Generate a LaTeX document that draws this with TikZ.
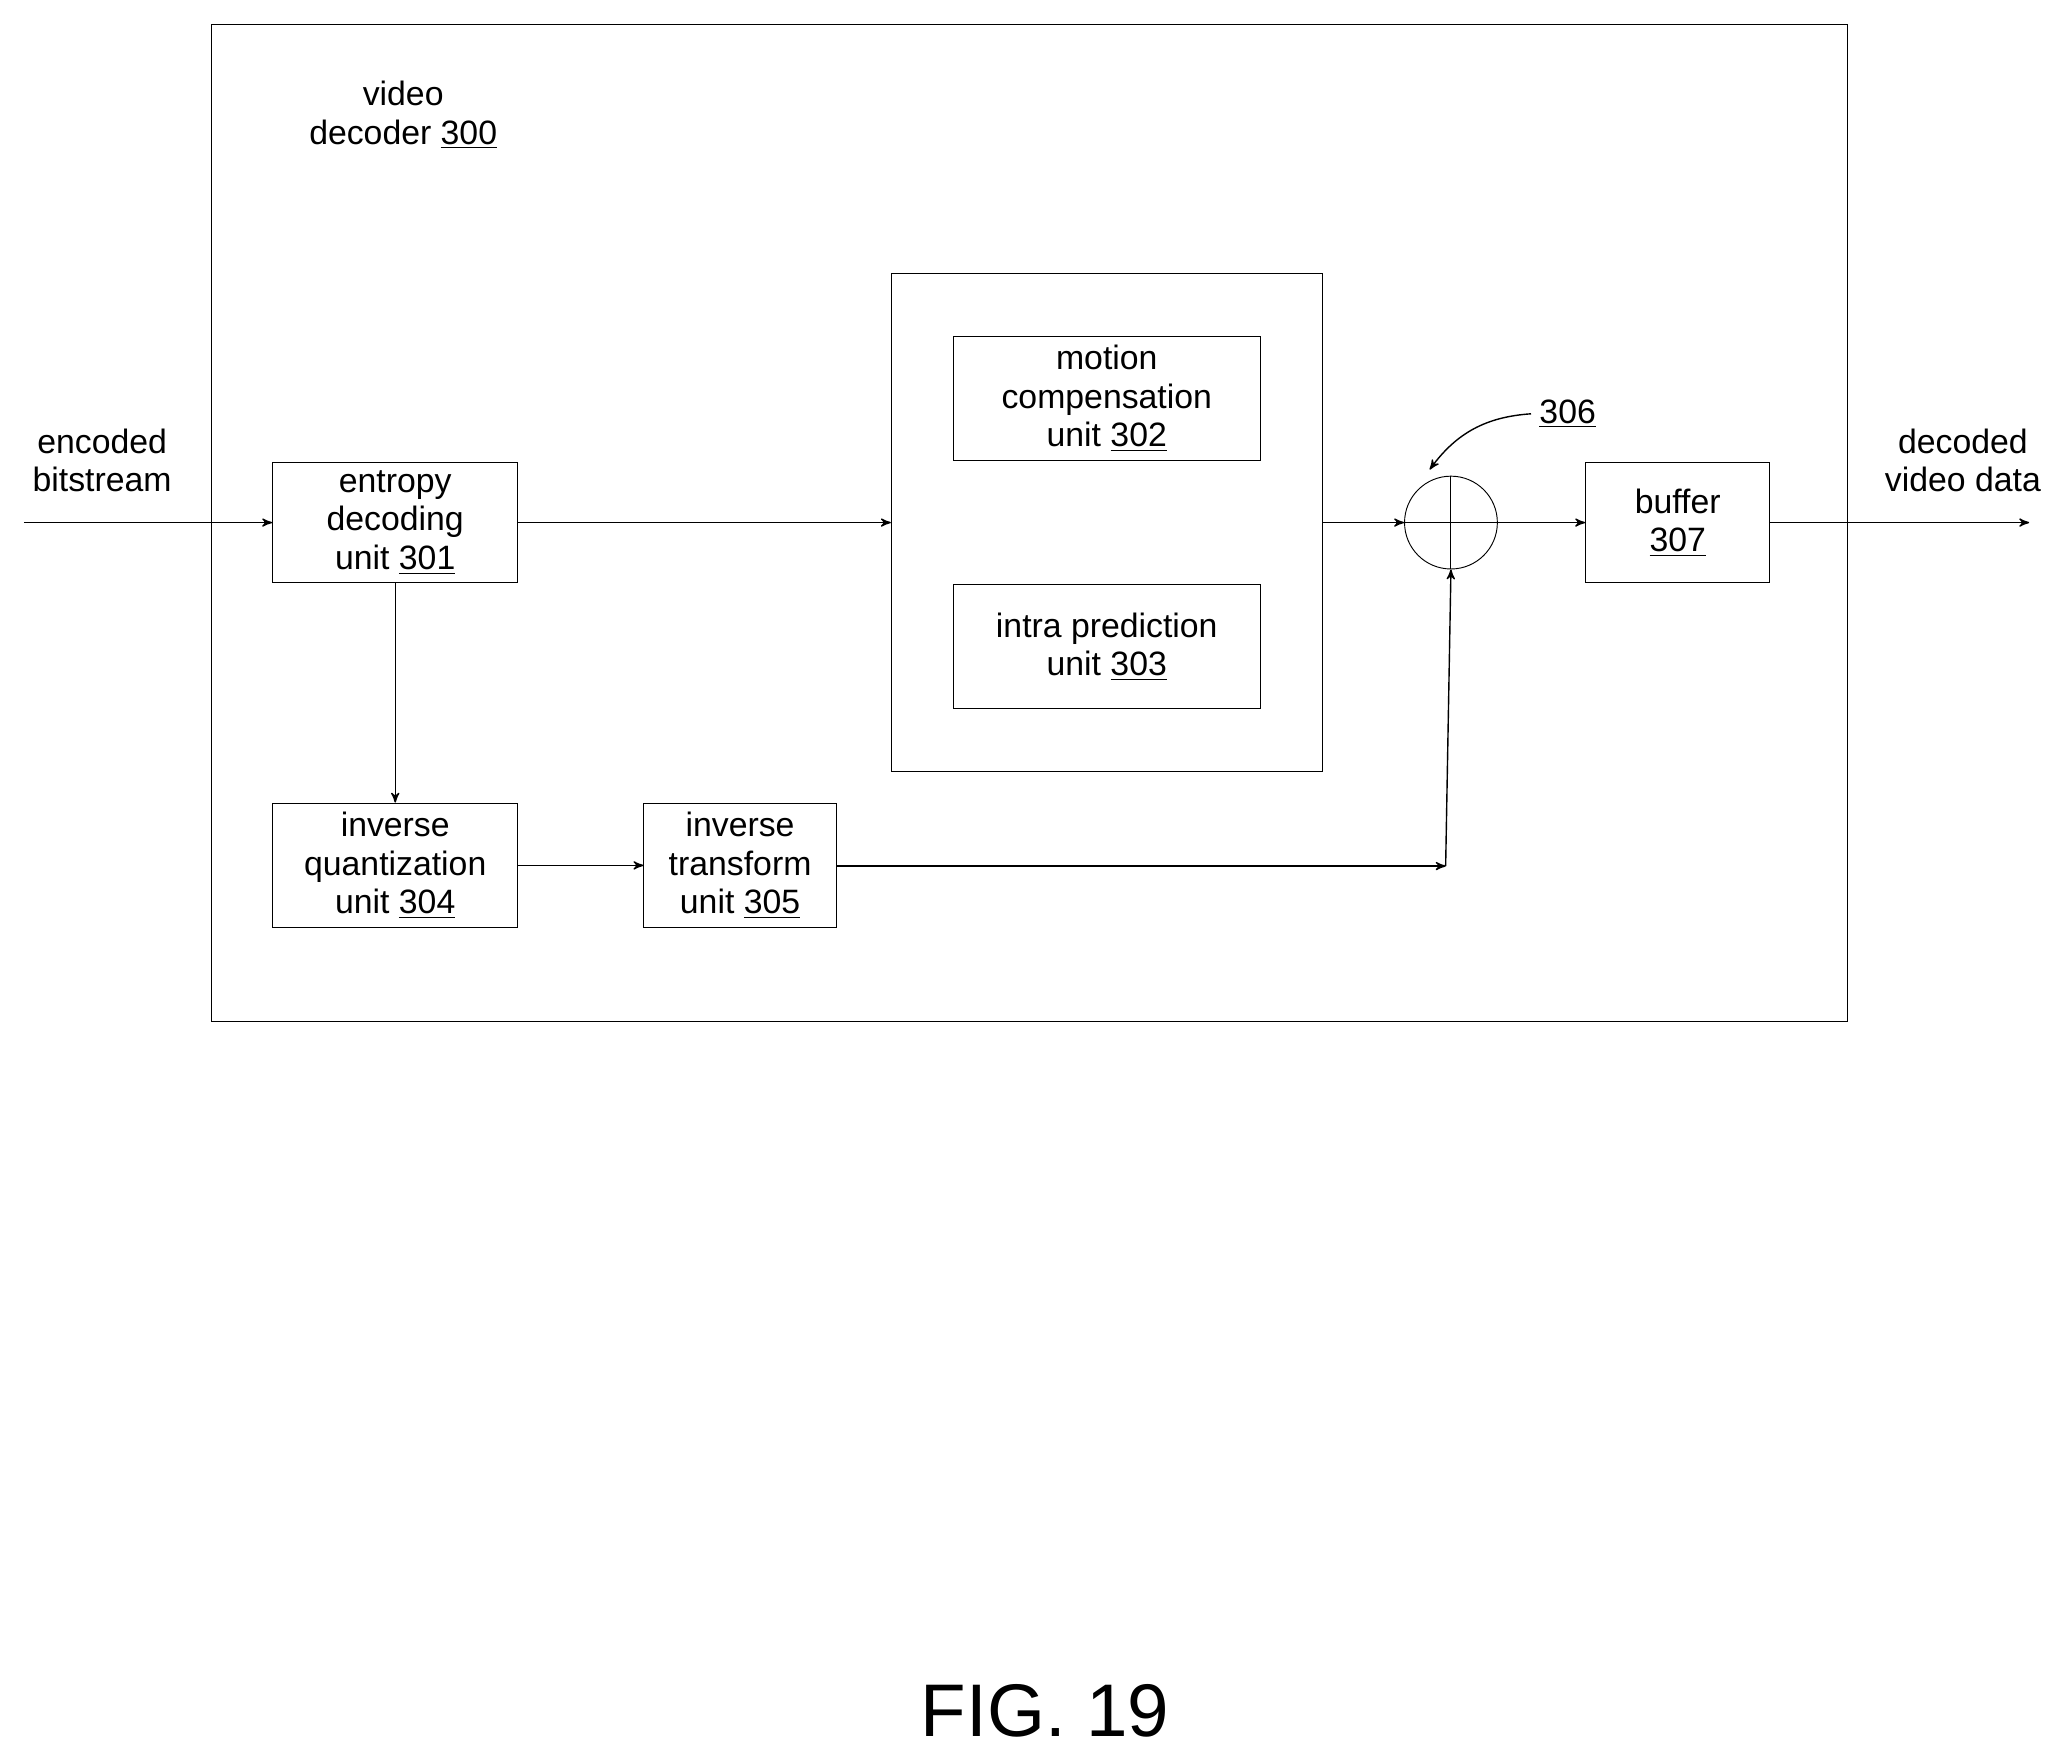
\documentclass[tikz,border=0pt]{standalone}
\usepackage{fontspec}
\setmainfont{Liberation Sans}
\usetikzlibrary{positioning,arrows}

\begin{document}
\begin{tikzpicture}[>=stealth',x=0.02cm,y=-0.02cm,semithick,
  font=\fontsize{14.5}{16.5}\selectfont]
  \tikzstyle{block}=[draw=black,thin,align=center,inner sep=1pt]
  \tikzstyle{every path}=[arrows={-{stealth'[scale=1.6]}}]

  \useasboundingbox (0,0) rectangle (1560,1320);

  % outer frame
  \node[block,minimum width=24.68cm,minimum height=15.04cm] (frame) at (776,394) {};
  \node[align=center] (title) at (304,87) {video\\decoder \underline{300}};

  % upper path
  \node[block,minimum width=3.7cm,minimum height=1.82cm] (ent) at (298,394)
    {entropy\\decoding\\unit \underline{301}};
  \node[block,minimum width=6.5cm,minimum height=7.5cm] (pred) at (834.5,394) {};
  \node[block,minimum width=4.64cm,minimum height=1.88cm] (mc) at (834.5,300.5)
    {motion\\compensation\\unit \underline{302}};
  \node[block,minimum width=4.64cm,minimum height=1.88cm] (intra) at (834.5,487.5)
    {intra prediction\\unit \underline{303}};
  \node[draw,thin,circle,minimum size=1.4cm,inner sep=0pt] (sum) at (1094,394) {};
  \draw[thin,-] (sum.north) -- (sum.south) (sum.west) -- (sum.east);
  \node[block,minimum width=2.78cm,minimum height=1.82cm] (buf) at (1265,394)
    {buffer\\\underline{307}};

  % lower path
  \node[block,minimum width=3.7cm,minimum height=1.88cm] (iq) at (298,652.5)
    {inverse\\quantization\\unit \underline{304}};
  \node[block,minimum width=2.9cm,minimum height=1.88cm] (it) at (558,652.5)
    {inverse\\transform\\unit \underline{305}};

  % terminals
  \coordinate (in) at (18,394);
  \coordinate (out) at (1530,394);
  \coordinate (turn) at (1090,653);
  \node[align=center] (inlbl) at (77,347) {encoded\\bitstream};
  \node[align=center] (outlbl) at (1480,347) {decoded\\video data};
  \node (lbl) at (1182,312) {\underline{306}};

  % connectors
  \draw[->] (in) -- (ent);
  \draw[->] (ent) -- (pred);
  \draw[->] (pred) -- (sum);
  \draw[->] (sum) -- (buf);
  \draw[->] (buf) -- (out);
  \draw[->] (ent) -- (iq);
  \draw[->] (iq) -- (it);
  \draw[->] (it.east |- turn) -- (turn);
  \draw[->] (turn) -- (sum.south);
  \draw[->] (lbl.west) to[bend right=25] (1078,354);

  \node[font=\fontsize{32}{36}\selectfont] (fig) at (788,1290) {FIG. 19};
\end{tikzpicture}
\end{document}
